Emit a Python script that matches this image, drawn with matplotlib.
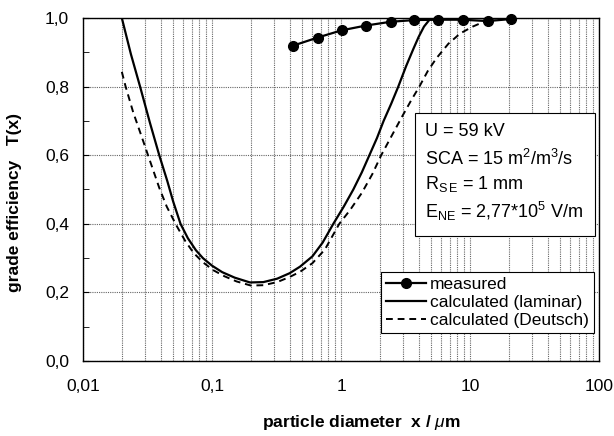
import matplotlib
matplotlib.use("Agg")
import matplotlib.pyplot as plt
from matplotlib.ticker import FixedLocator, FuncFormatter, LogLocator, NullFormatter
from matplotlib.patches import Rectangle

plt.rcParams['font.family'] = ['Liberation Sans', 'DejaVu Sans']
plt.rcParams['mathtext.fontset'] = 'custom'
plt.rcParams['mathtext.rm'] = 'Liberation Sans'
plt.rcParams['mathtext.it'] = 'Liberation Sans:italic'
plt.rcParams['mathtext.bf'] = 'Liberation Sans:bold'

# measured data
meas_x = [0.422, 0.659, 1.01, 1.56, 2.43, 3.70, 5.68, 8.75, 13.7, 20.8]
meas_y = [0.919, 0.943, 0.964, 0.978, 0.989, 0.994, 0.995, 0.995, 0.991, 0.997]

# calculated (laminar)
lam_x = [0.02, 0.0235, 0.0277, 0.033, 0.039, 0.045, 0.05, 0.057, 0.065, 0.075, 0.085,
         0.1, 0.12, 0.15, 0.197, 0.25, 0.32, 0.40, 0.481, 0.6, 0.72, 0.872, 1.05,
         1.246, 1.45, 1.66, 1.9, 2.14, 2.45, 2.78, 3.2, 3.64, 4.0, 4.4, 4.9, 10.0, 20.8]
lam_y = [1.0, 0.895, 0.80, 0.695, 0.60, 0.525, 0.465, 0.40, 0.358, 0.323, 0.300,
         0.278, 0.259, 0.243, 0.229, 0.230, 0.240, 0.256, 0.275, 0.305, 0.345, 0.40, 0.45,
         0.50, 0.55, 0.60, 0.65, 0.70, 0.75, 0.80, 0.86, 0.91, 0.945, 0.975, 0.997, 1.0, 1.0]

# calculated (Deutsch)
deu_x = [0.02, 0.0214, 0.0245, 0.0285, 0.034, 0.039, 0.0446, 0.053, 0.062, 0.072,
         0.085, 0.102, 0.125, 0.155, 0.2, 0.25, 0.32, 0.40, 0.481, 0.6, 0.75, 0.97,
         1.175, 1.45, 1.75, 2.05, 2.5, 3.0, 3.5, 4.05, 4.7, 5.5, 6.8, 8.4, 10.5, 13.0, 16.0]
deu_y = [0.843, 0.80, 0.725, 0.654, 0.57, 0.505, 0.45, 0.395, 0.350, 0.315,
         0.288, 0.265, 0.247, 0.232, 0.220, 0.221, 0.230, 0.245, 0.260, 0.285, 0.325, 0.40,
         0.44, 0.49, 0.545, 0.60, 0.66, 0.715, 0.76, 0.80, 0.845, 0.883, 0.925, 0.955,
         0.975, 0.99, 1.0]

y_major = [0.0, 0.2, 0.4, 0.6, 0.8, 1.0]
x_major = [0.01, 0.1, 1, 10, 100]
x_labels = ['0,01', '0,1', '1', '10', '100']

fig = plt.figure(figsize=(6.14, 4.36), dpi=100)
ax = fig.add_axes([83/614, 1-361/436, 516/614, 343/436])

ax.plot(lam_x, lam_y, color='black', lw=1.6, label='calculated (laminar)', zorder=3)
ax.plot(deu_x, deu_y, color='black', lw=1.4, linestyle=(0, (3.5, 2.5)),
        label='calculated (Deutsch)', zorder=3)
ax.plot(meas_x, meas_y, color='black', lw=1.6, marker='o', markersize=7,
        label='measured', zorder=4, clip_on=False)

ax.set_xscale('log')
ax.set_xlim(0.01, 100)
ax.set_ylim(0, 1.0)

ax.xaxis.set_major_locator(FixedLocator(x_major))
ax.xaxis.set_major_formatter(FuncFormatter(
    lambda v, p: x_labels[x_major.index(min(x_major, key=lambda m: abs(m - v)))]))
ax.xaxis.set_minor_locator(LogLocator(base=10, subs=[2, 3, 4, 5, 6, 7, 8, 9]))
ax.xaxis.set_minor_formatter(NullFormatter())

ax.yaxis.set_major_locator(FixedLocator(y_major))
ax.yaxis.set_major_formatter(FuncFormatter(lambda v, p: f"{v:.1f}".replace('.', ',')))
ax.yaxis.set_minor_locator(FixedLocator([0.1, 0.3, 0.5, 0.7, 0.9]))

ax.grid(True, which='both', axis='x', color='0.4', lw=0.8, linestyle=(0, (1, 1)))
ax.grid(True, which='major', axis='y', color='0.4', lw=0.8, linestyle=(0, (1, 1)))

ax.tick_params(axis='x', which='both', length=0, pad=13, labelsize=12.5)
ax.tick_params(axis='y', which='major', direction='in', length=4, pad=10, labelsize=12.5)
ax.tick_params(axis='y', which='minor', direction='in', length=4)

for s in ax.spines.values():
    s.set_linewidth(1.0)
    s.set_color('black')

fig.text(361/614, 1-422/436, 'particle diameter  x / $\\mu$m', ha='center', va='center',
         fontsize=12.5, fontweight='bold')
fig.text(15/614, 1-203/436, 'grade efficiency   T(x)', ha='center', va='center',
         rotation=90, fontsize=12.5, fontweight='bold')

# info box
ax.add_patch(Rectangle((0.643, 0.364), 0.349, 0.359, transform=ax.transAxes,
                       facecolor='white', edgecolor='black', lw=0.8, zorder=5))
info = ['U = 59 kV',
        'SCA = 15 m$^2$/m$^3$/s',
        'R$_{\\mathrm{S\\,E}}$ = 1 mm',
        'E$_{\\mathrm{NE}}$ = 2,77*10$^5$ V/m']
info_y = [0.668, 0.590, 0.515, 0.435]
for t, yy in zip(info, info_y):
    ax.text(0.663, yy, t, transform=ax.transAxes, fontsize=13, va='center', ha='left',
            zorder=6)

h, l = ax.get_legend_handles_labels()
order = [2, 0, 1]
leg = ax.legend([h[i] for i in order], [l[i] for i in order], loc='lower right',
                bbox_to_anchor=(0.99, 0.0816), fontsize=12.5, frameon=True,
                fancybox=False, framealpha=1, edgecolor='black', borderpad=0.3,
                handlelength=2.3, handletextpad=0.2, labelspacing=0.15, borderaxespad=0)
leg.get_frame().set_linewidth(0.8)
leg.set_zorder(7)

fig.savefig('out.png', dpi=100)
